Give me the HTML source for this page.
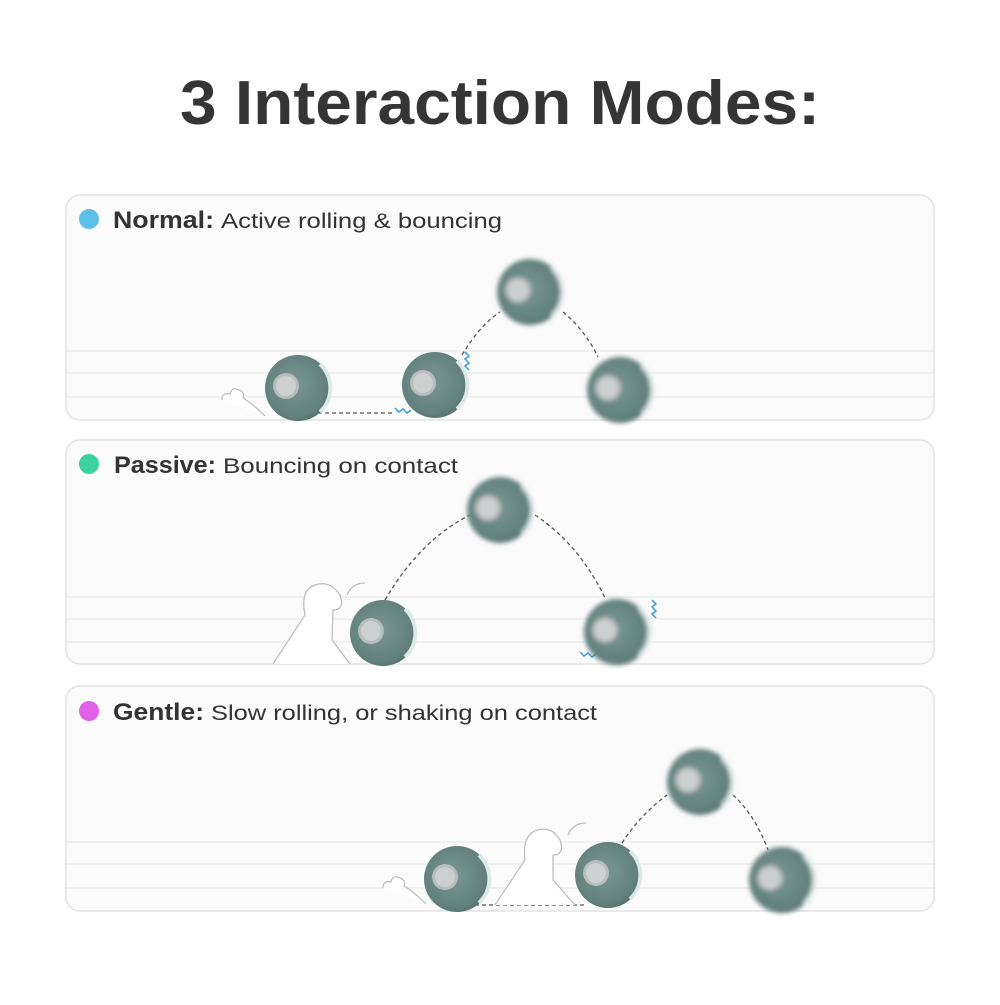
<!DOCTYPE html>
<html><head><style>
html,body{margin:0;padding:0;background:#fff;}
body{width:1000px;height:1000px;overflow:hidden;}
text{font-family:"Liberation Sans",sans-serif;}
</style></head><body>
<svg width="1000" height="1000" viewBox="0 0 1000 1000" xmlns="http://www.w3.org/2000/svg">
<defs>
<radialGradient id="ball" cx="45%" cy="45%" r="60%">
<stop offset="0" stop-color="#7a9793"/><stop offset="0.8" stop-color="#62807c"/><stop offset="1" stop-color="#536f6b"/>
</radialGradient>
<filter id="blur"><feGaussianBlur stdDeviation="2.5"/></filter>
<g id="b">
<circle r="33" fill="url(#ball)"/>
<path d="M22,-24 A33,33 0 0 1 22,24" stroke="#dde8e8" stroke-width="4" fill="none"/>
<circle cx="-12" cy="-2" r="13" fill="#b8bcbc"/>
<circle cx="-12" cy="-2" r="10" fill="#cdd0d0"/>
</g>
</defs>
<text x="180" y="124" textLength="640" lengthAdjust="spacingAndGlyphs" font-size="62" font-weight="bold" fill="#353535">3 Interaction Modes:</text>

<g fill="#fbfbfb" stroke="#e2e2e2" stroke-width="1.5">
<rect x="66" y="195" width="868" height="225" rx="14"/>
<rect x="66" y="440" width="868" height="224" rx="14"/>
<rect x="66" y="686" width="868" height="225" rx="14"/>
</g>
<g stroke="#e6e6e6" stroke-width="1">
<line x1="66" y1="351" x2="934" y2="351"/><line x1="66" y1="373" x2="934" y2="373"/><line x1="66" y1="397" x2="934" y2="397"/>
<line x1="66" y1="597" x2="934" y2="597"/><line x1="66" y1="619" x2="934" y2="619"/><line x1="66" y1="642" x2="934" y2="642"/>
<line x1="66" y1="842" x2="934" y2="842"/><line x1="66" y1="864" x2="934" y2="864"/><line x1="66" y1="888" x2="934" y2="888"/>
</g>

<circle cx="89" cy="219" r="10" fill="#5bc0eb"/>
<text x="113" y="228" textLength="101" lengthAdjust="spacingAndGlyphs" font-size="24" font-weight="bold" fill="#333">Normal:</text>
<text x="221" y="228" textLength="281" lengthAdjust="spacingAndGlyphs" font-size="21" fill="#333">Active rolling &amp; bouncing</text>
<circle cx="89" cy="464" r="10" fill="#3dd3a0"/>
<text x="114" y="473" textLength="102" lengthAdjust="spacingAndGlyphs" font-size="24" font-weight="bold" fill="#333">Passive:</text>
<text x="223" y="473" textLength="235" lengthAdjust="spacingAndGlyphs" font-size="21" fill="#333">Bouncing on contact</text>
<circle cx="89" cy="711" r="10" fill="#e060e8"/>
<text x="113" y="720" textLength="91" lengthAdjust="spacingAndGlyphs" font-size="24" font-weight="bold" fill="#333">Gentle:</text>
<text x="211" y="720" textLength="386" lengthAdjust="spacingAndGlyphs" font-size="21" fill="#333">Slow rolling, or shaking on contact</text>

<g stroke="#555" stroke-width="1.3" stroke-dasharray="4,3" fill="none">
<line x1="318" y1="413" x2="392" y2="413"/>
<path d="M462,355 Q480,325 500,312"/><path d="M563,312 Q585,330 598,357"/>
<path d="M385,600 Q420,540 470,515"/><path d="M535,515 Q580,545 606,600"/>
<line x1="475" y1="905" x2="587" y2="905"/>
<path d="M622,843 Q640,815 667,795"/><path d="M733,795 Q755,815 768,850"/>
</g>
<g stroke="#3a9ad9" stroke-width="1.5" fill="none">
<path d="M465,352 l4,4 -4,3 4,4 -4,3 4,4"/><path d="M395,408 l4,4 4,-3 4,4 4,-3"/>
<path d="M652,600 l4,4 -4,3 4,4 -4,3 4,4"/><path d="M580,652 l4,4 4,-3 4,4 4,-3"/>
</g>
<g stroke="#bbb" stroke-width="1.2" fill="#fff">
<path d="M222,400 q0,-8 8,-6 q2,-8 9,-4 q6,2 4,8 q10,6 22,18" />
<path d="M273,664 L305,615 Q300,590 315,585 Q330,580 340,595 Q345,610 333,610 L332,640 L350,664"/>
<path d="M383,888 q0,-8 8,-6 q2,-8 9,-4 q6,2 4,8 q10,6 22,18"/>
<path d="M495,905 L525,860 Q522,835 537,830 Q552,826 560,840 Q565,855 553,855 L553,880 L575,905"/>
<path d="M347,595 q5,-12 18,-12" fill="none"/><path d="M568,835 q5,-12 18,-12" fill="none"/>
</g>

<use href="#b" x="298" y="388"/>
<use href="#b" x="435" y="385"/>
<g filter="url(#blur)"><use href="#b" x="530" y="292"/><use href="#b" x="620" y="390"/></g>
<g filter="url(#blur)"><use href="#b" x="500" y="510"/><use href="#b" x="617" y="632"/></g>
<use href="#b" x="383" y="633"/>
<use href="#b" x="457" y="879"/>
<use href="#b" x="608" y="875"/>
<g filter="url(#blur)"><use href="#b" x="700" y="782"/><use href="#b" x="782" y="880"/></g>
</svg>
</body></html>
